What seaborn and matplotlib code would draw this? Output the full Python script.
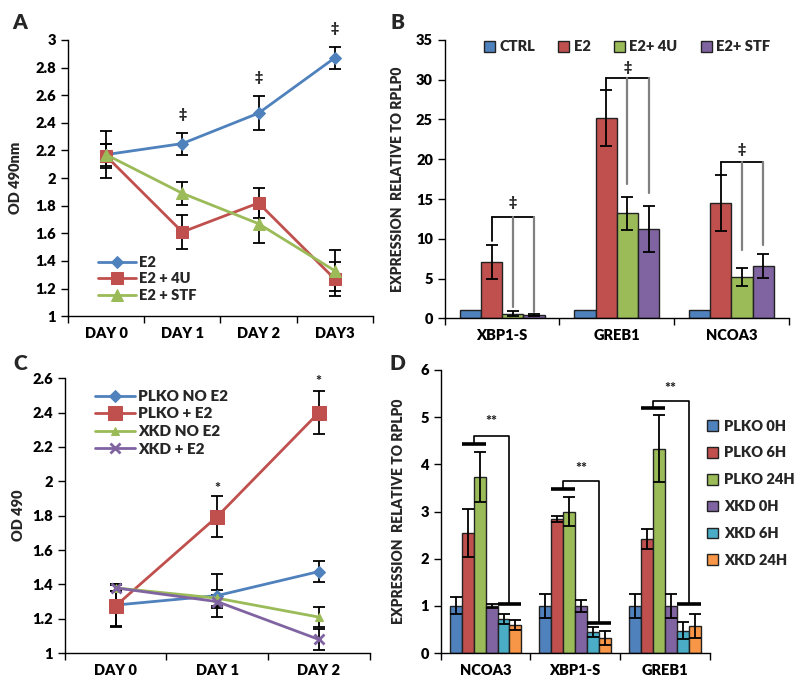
import numpy as np
import pandas as pd
import matplotlib
matplotlib.use("Agg")
import matplotlib.pyplot as plt
import seaborn as sns
from matplotlib.ticker import FixedLocator, NullFormatter

# ---------------- Panel A data ----------------
a_days = ["DAY 0", "DAY 1", "DAY 2", "DAY3"]
a_names = ["E2", "E2 + 4U", "E2 + STF"]
a_e2 = [2.17, 2.25, 2.47, 2.87]
a_e2_err = [0.17, 0.08, 0.125, 0.08]
a_4u = [2.16, 1.61, 1.82, 1.27]
a_4u_err = [0.09, 0.12, 0.11, 0.12]
a_stf = [2.17, 1.89, 1.67, 1.33]
a_stf_err = [0.08, 0.085, 0.14, 0.15]
a_sig_y = [np.nan, 2.46, 2.73, 3.08]

# ---------------- Panel B data ----------------
b_genes = ["XBP1-S", "GREB1", "NCOA3"]
b_groups = ["CTRL", "E2", "E2+ 4U", "E2+ STF"]
b_ctrl = [1.0, 1.0, 1.0]
b_ctrl_err = [0.0, 0.0, 0.0]
b_e2 = [7.1, 25.2, 14.5]
b_e2_err = [2.1, 3.5, 3.5]
b_4u = [0.6, 13.2, 5.2]
b_4u_err = [0.3, 2.1, 1.1]
b_stf = [0.45, 11.2, 6.6]
b_stf_err = [0.15, 2.9, 1.5]
b_bracket_y = [12.8, 30.2, 19.7]
b_bracket_left_end = [9.7, 28.8, 18.0]
b_bracket_4u_end = [1.4, 16.9, 8.6]
b_bracket_stf_end = [0.8, 15.7, 9.2]
b_sig_y = [14.6, 31.6, 21.2]

# ---------------- Panel C data ----------------
c_days = ["DAY 0", "DAY 1", "DAY 2"]
c_names = ["PLKO NO E2", "PLKO + E2", "XKD NO E2", "XKD + E2"]
c_plko_no = [1.28, 1.335, 1.475]
c_plko_no_err = [0.12, 0.125, 0.06]
c_plko_e2 = [1.275, 1.795, 2.40]
c_plko_e2_err = [0.12, 0.117, 0.125]
c_xkd_no = [1.38, 1.32, 1.21]
c_xkd_no_err = [0.02, 0.045, 0.06]
c_xkd_e2 = [1.38, 1.30, 1.08]
c_xkd_e2_err = [0.02, 0.04, 0.06]
c_sig_y = [np.nan, 1.96, 2.58]

# ---------------- Panel D data ----------------
d_genes = ["NCOA3", "XBP1-S", "GREB1"]
d_groups = ["PLKO 0H", "PLKO 6H", "PLKO 24H", "XKD 0H", "XKD 6H", "XKD 24H"]
d_plko0 = [1.0, 1.0, 1.0]
d_plko0_err = [0.18, 0.25, 0.25]
d_plko6 = [2.55, 2.84, 2.42]
d_plko6_err = [0.51, 0.06, 0.22]
d_plko24 = [3.73, 3.0, 4.33]
d_plko24_err = [0.53, 0.3, 0.71]
d_xkd0 = [1.0, 1.0, 1.0]
d_xkd0_err = [0.05, 0.13, 0.25]
d_xkd6 = [0.72, 0.45, 0.47]
d_xkd6_err = [0.1, 0.1, 0.18]
d_xkd24 = [0.6, 0.32, 0.58]
d_xkd24_err = [0.1, 0.14, 0.25]
d_top_bar_y = [4.43, 3.47, 5.19]
d_bracket_y = [4.6, 3.64, 5.34]
d_low_bar_y = [1.04, 0.64, 1.04]
d_sig_y = [4.9, 3.92, 5.6]

# colours (Office palette)
BLUE, RED, GREEN, PURPLE, CYAN, ORANGE = "#4F81BD", "#C0504D", "#9BBB59", "#8064A2", "#4BACC6", "#F79646"

sns.set_theme(style="white")
FONT = ["Lato", "DejaVu Sans"]
W = "heavy"
plt.rcParams["font.family"] = FONT
plt.rcParams["font.weight"] = W
plt.rcParams["axes.labelweight"] = W
plt.rcParams["font.size"] = 10.5

fig = plt.figure(figsize=(8, 6.89), dpi=100)
axA = fig.add_axes([0.085, 0.541, 0.381, 0.401])
axB = fig.add_axes([0.556, 0.538, 0.430, 0.404])
axC = fig.add_axes([0.081, 0.052, 0.381, 0.399])
axD = fig.add_axes([0.551, 0.052, 0.336, 0.411])


def style_axis(ax, ncat):
    sns.despine(ax=ax)
    for s in ("left", "bottom"):
        ax.spines[s].set_color("black")
        ax.spines[s].set_linewidth(1.0)
    ax.set_xlim(-0.5, ncat - 0.5)
    ax.xaxis.set_minor_locator(FixedLocator([k - 0.5 for k in range(ncat + 1)]))
    ax.xaxis.set_minor_formatter(NullFormatter())
    ax.tick_params(axis="x", which="major", length=0, pad=8, labelsize=10.5, colors="black")
    ax.tick_params(axis="x", which="minor", length=5, width=1, direction="out", color="black", bottom=True)
    ax.tick_params(axis="y", which="major", length=5, width=1, direction="out", color="black",
                   left=True, labelsize=10.5, labelcolor="black")
    for lab in ax.get_xticklabels() + ax.get_yticklabels():
        lab.set_fontweight(W)
    ax.grid(False)


def fmt_num(v, pos=None):
    return ("%g" % v)

# ---------------- Panel A ----------------
a_x = list(range(len(a_days)))
a_specs = [(a_e2, a_e2_err, BLUE, "D", 6), (a_4u, a_4u_err, RED, "s", 9), (a_stf, a_stf_err, GREEN, "^", 8)]
for name, (vals, errs, col, mk, ms) in zip(a_names, a_specs):
    axA.errorbar(a_x, vals, yerr=errs, fmt="none", ecolor="black", elinewidth=1.3,
                 capsize=4, capthick=1.3, zorder=1)
for name, (vals, errs, col, mk, ms) in zip(a_names, a_specs):
    sns.lineplot(x=a_x, y=vals, ax=axA, color=col, marker=mk, markersize=ms,
                 markeredgecolor=col, linewidth=2, label=name, zorder=2)
for xi, sy in zip(a_x, a_sig_y):
    if not np.isnan(sy):
        axA.text(xi, sy, "‡", ha="center", va="center", fontsize=10, fontweight=W,
                 family=FONT, clip_on=False)
axA.set_ylim(1, 3)
axA.set_yticks(np.arange(1, 3.01, 0.2))
axA.yaxis.set_major_formatter(plt.FuncFormatter(fmt_num))
axA.set_xticks(a_x)
axA.set_xticklabels(a_days)
axA.set_ylabel("OD 490nm", fontsize=10.5, fontweight=W)
axA.yaxis.set_label_coords(-0.15, 0.5)
style_axis(axA, len(a_days))
axA.legend(loc="lower left", bbox_to_anchor=(0.08, 0.03), frameon=False, fontsize=10.5,
           handlelength=2.6, labelspacing=0.25, handletextpad=0.2, borderaxespad=0)

# ---------------- Panel B ----------------
b_vals = [b_ctrl, b_e2, b_4u, b_stf]
b_errs = [b_ctrl_err, b_e2_err, b_4u_err, b_stf_err]
dfB = pd.DataFrame([
    {"gene": g, "group": grp, "value": v, "err": e}
    for grp, vs, es in zip(b_groups, b_vals, b_errs)
    for g, v, e in zip(b_genes, vs, es)
])
sns.barplot(data=dfB, x="gene", y="value", hue="group", order=b_genes, hue_order=b_groups,
            palette=[BLUE, RED, GREEN, PURPLE], edgecolor="#222222", linewidth=1.0,
            width=0.74, errorbar=None, ax=axB, saturation=1)
centersB = []
for cont, errs in zip(axB.containers, b_errs):
    xs = [p.get_x() + p.get_width() / 2 for p in cont.patches]
    hs = [p.get_height() for p in cont.patches]
    centersB.append(xs)
    if max(errs) > 0:
        axB.errorbar(xs, hs, yerr=errs, fmt="none", ecolor="black", elinewidth=1.3,
                     capsize=4, capthick=1.3, zorder=3)
for i in range(len(b_genes)):
    x_e2, x_4u, x_stf = centersB[1][i], centersB[2][i], centersB[3][i]
    y = b_bracket_y[i]
    axB.plot([x_e2, x_stf], [y, y], color="black", lw=1.3, zorder=4)
    axB.plot([x_e2, x_e2], [y, b_bracket_left_end[i]], color="black", lw=1.3, zorder=4)
    axB.plot([x_4u, x_4u], [y, b_bracket_4u_end[i]], color="#808080", lw=1.6, zorder=4)
    axB.plot([x_stf, x_stf], [y, b_bracket_stf_end[i]], color="#808080", lw=1.6, zorder=4)
    axB.text(x_4u, b_sig_y[i], "‡", ha="center", va="center", fontsize=10,
             fontweight=W, family=FONT)
axB.set_ylim(0, 35)
axB.set_yticks(np.arange(0, 35.1, 5))
axB.set_xlabel("")
axB.set_ylabel("EXPRESSION  RELATIVE TO RPLP0", fontsize=10, fontweight=W)
axB.yaxis.set_label_coords(-0.12, 0.5)
style_axis(axB, len(b_genes))
axB.legend(loc="center", bbox_to_anchor=(0.53, 0.975), ncol=4, frameon=False, fontsize=10.5,
           handlelength=0.75, handleheight=0.75, handletextpad=0.3, columnspacing=1.6,
           borderaxespad=0)

# ---------------- Panel C ----------------
c_x = list(range(len(c_days)))
c_specs = [(c_plko_no, c_plko_no_err, BLUE, "D", 6),
           (c_plko_e2, c_plko_e2_err, RED, "s", 10),
           (c_xkd_no, c_xkd_no_err, GREEN, "^", 6),
           (c_xkd_e2, c_xkd_e2_err, PURPLE, "x", 7)]
for name, (vals, errs, col, mk, ms) in zip(c_names, c_specs):
    axC.errorbar(c_x, vals, yerr=errs, fmt="none", ecolor="black", elinewidth=1.3,
                 capsize=4, capthick=1.3, zorder=1)
for name, (vals, errs, col, mk, ms) in zip(c_names, c_specs):
    kw = dict(markeredgecolor=col)
    if mk == "x":
        kw["markeredgewidth"] = 2
    sns.lineplot(x=c_x, y=vals, ax=axC, color=col, marker=mk, markersize=ms,
                 linewidth=2, label=name, zorder=2, **kw)
for xi, sy in zip(c_x, c_sig_y):
    if not np.isnan(sy):
        axC.text(xi, sy, "*", ha="center", va="center", fontsize=10, fontweight=W)
axC.set_ylim(1, 2.6)
axC.set_yticks(np.arange(1, 2.61, 0.2))
axC.yaxis.set_major_formatter(plt.FuncFormatter(fmt_num))
axC.set_xticks(c_x)
axC.set_xticklabels(c_days)
axC.set_ylabel("OD 490", fontsize=10.5, fontweight=W)
axC.yaxis.set_label_coords(-0.13, 0.5)
style_axis(axC, len(c_days))
axC.legend(loc="upper left", bbox_to_anchor=(0.08, 0.98), frameon=False, fontsize=11,
           handlelength=2.6, labelspacing=0.3, handletextpad=0.2, borderaxespad=0)

# ---------------- Panel D ----------------
d_vals = [d_plko0, d_plko6, d_plko24, d_xkd0, d_xkd6, d_xkd24]
d_errs = [d_plko0_err, d_plko6_err, d_plko24_err, d_xkd0_err, d_xkd6_err, d_xkd24_err]
dfD = pd.DataFrame([
    {"gene": g, "group": grp, "value": v}
    for grp, vs in zip(d_groups, d_vals)
    for g, v in zip(d_genes, vs)
])
sns.barplot(data=dfD, x="gene", y="value", hue="group", order=d_genes, hue_order=d_groups,
            palette=[BLUE, RED, GREEN, PURPLE, CYAN, ORANGE], edgecolor="#222222",
            linewidth=1.0, width=0.8, errorbar=None, ax=axD, saturation=1)
barsD = []
for cont, errs in zip(axD.containers, d_errs):
    xs = [p.get_x() + p.get_width() / 2 for p in cont.patches]
    hs = [p.get_height() for p in cont.patches]
    barsD.append(cont.patches)
    axD.errorbar(xs, hs, yerr=errs, fmt="none", ecolor="black", elinewidth=1.3,
                 capsize=4, capthick=1.3, zorder=3)
for i in range(len(d_genes)):
    p6, p24, x6, x24 = barsD[1][i], barsD[2][i], barsD[4][i], barsD[5][i]
    tl, tr = p6.get_x(), p24.get_x() + p24.get_width()
    ll, lr = x6.get_x(), x24.get_x() + x24.get_width()
    xa = p24.get_x()
    xb = x24.get_x()
    axD.plot([tl, tr], [d_top_bar_y[i]] * 2, color="black", lw=2.6, zorder=4,
             solid_capstyle="butt")
    axD.plot([ll, lr], [d_low_bar_y[i]] * 2, color="black", lw=2.6, zorder=4,
             solid_capstyle="butt")
    axD.plot([xa, xa, xb, xb], [d_top_bar_y[i], d_bracket_y[i], d_bracket_y[i], d_low_bar_y[i]],
             color="black", lw=1.2, zorder=4)
    axD.text((xa + xb) / 2, d_sig_y[i], "**", ha="center", va="center", fontsize=10,
             fontweight=W)
axD.set_ylim(0, 6)
axD.set_yticks(np.arange(0, 6.1, 1))
axD.set_xlabel("")
axD.set_ylabel("EXPRESSION  RELATIVE TO RPLP0", fontsize=10, fontweight=W)
axD.yaxis.set_label_coords(-0.135, 0.5)
style_axis(axD, len(d_genes))
axD.legend(loc="center left", bbox_to_anchor=(0.97, 0.565), frameon=False, fontsize=10.5,
           handlelength=0.75, handleheight=0.75, handletextpad=0.4, labelspacing=0.95,
           borderaxespad=0)

# panel letters
for lbl, (fx, fy) in zip("ABCD", [(0.025, 0.967), (0.497, 0.967), (0.025, 0.473), (0.497, 0.473)]):
    fig.text(fx, fy, lbl, ha="center", va="center", fontsize=15, fontweight=W)

fig.savefig("out.png", dpi=100, facecolor="white")
